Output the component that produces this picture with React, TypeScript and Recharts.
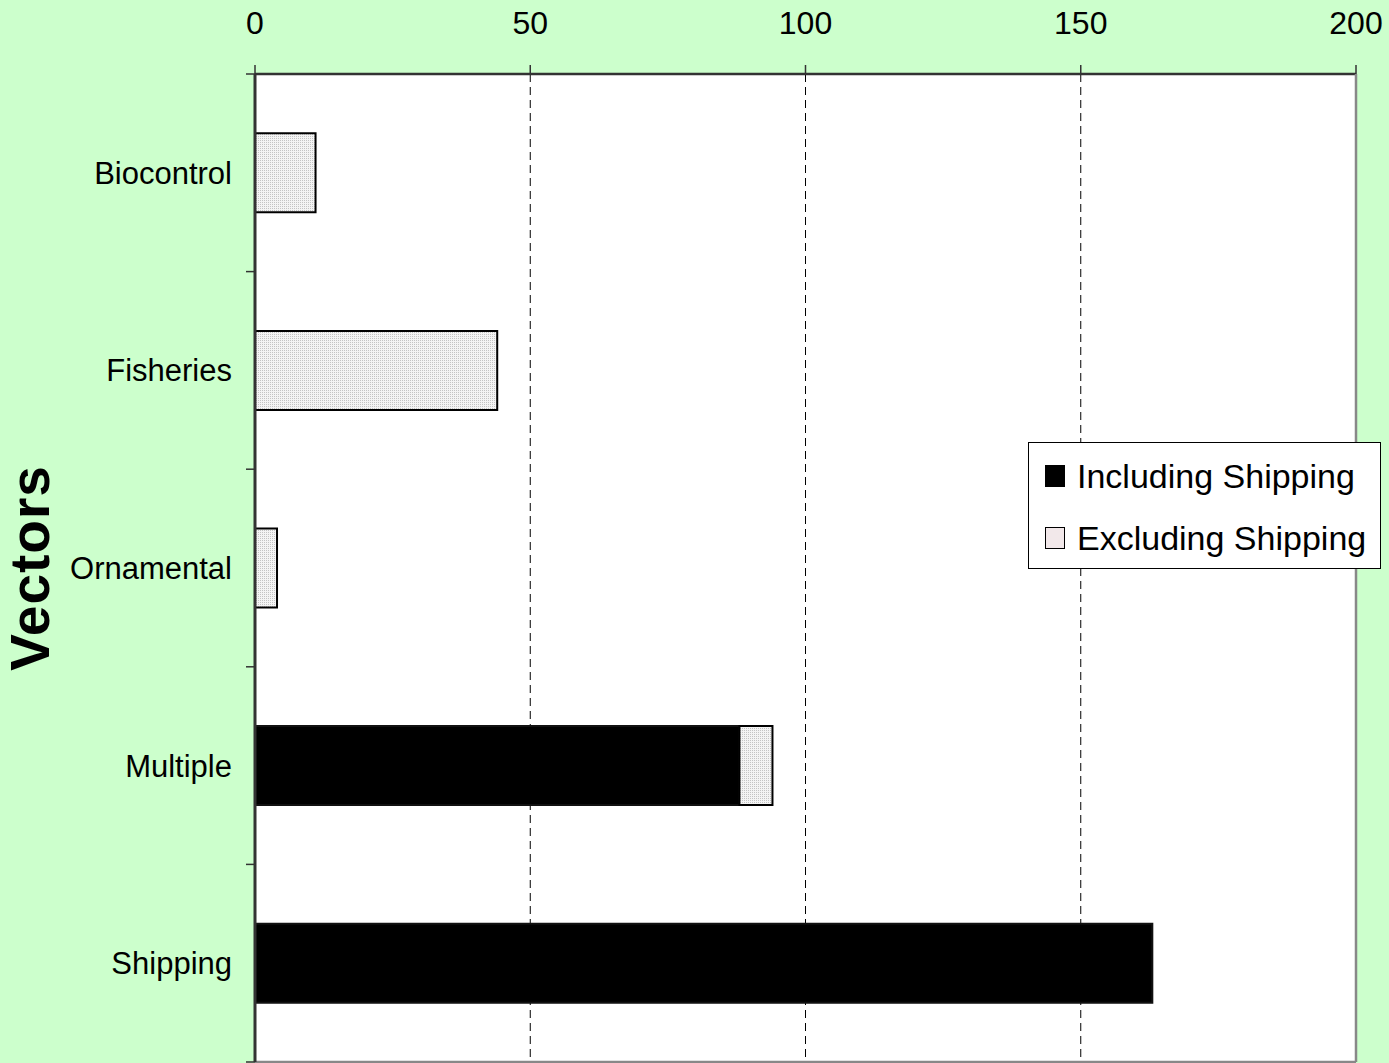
import { BarChart, Bar, XAxis, YAxis, CartesianGrid } from "recharts";

const categories = ["Biocontrol", "Fisheries", "Ornamental", "Multiple", "Shipping"];
const includingShipping = [0, 0, 0, 88, 163];
const excludingShipping = [11, 44, 4, 6, 0];
const xTicks = [0, 50, 100, 150, 200];
const seriesNames = ["Including Shipping", "Excluding Shipping"];

const data = categories.map((name, i) => ({
  name,
  including: includingShipping[i],
  excluding: excludingShipping[i],
}));

const BG = "#ccffcc";
const FONT = "'Liberation Sans', Arial, sans-serif";
const LEFT_W = 255;

function CategoryTick(props: any) {
  const { y, payload, index } = props;
  const half = payload.offset || 0;
  return (
    <g>
      <text
        x={LEFT_W - 23}
        y={y}
        dy={11}
        textAnchor="end"
        fontSize={31}
        fontFamily={FONT}
        fill="#000"
      >
        {payload.value}
      </text>
      {index === 0 && (
        <line x1={LEFT_W - 9} x2={LEFT_W} y1={y - half} y2={y - half} stroke="#333" strokeWidth={1.5} />
      )}
      <line x1={LEFT_W - 9} x2={LEFT_W} y1={y + half} y2={y + half} stroke="#333" strokeWidth={1.5} />
    </g>
  );
}

export default function App() {
  return (
    <div style={{ position: "relative", width: 1389, height: 1063, background: BG }}>
      <style>{"body{margin:0}"}</style>
      <svg width={0} height={0} style={{ position: "absolute" }}>
        <defs>
          <pattern id="dots" width={2} height={2} patternUnits="userSpaceOnUse">
            <rect width={2} height={2} fill="#f4f4f4" />
            <rect width={1} height={1} fill="#c4c4c4" />
          </pattern>
        </defs>
      </svg>
      <BarChart
        width={1389}
        height={1063}
        data={data}
        layout="vertical"
        margin={{ top: 0, right: 32, bottom: 0, left: 0 }}
        barCategoryGap="30%"
      >
        <CartesianGrid
          horizontal={false}
          stroke="#000"
          strokeDasharray="8 5"
          fill="#ffffff"
          fillOpacity={1}
        />
        <XAxis
          type="number"
          orientation="top"
          domain={[0, 200]}
          ticks={xTicks}
          height={74}
          tickSize={9}
          tickMargin={31}
          tick={{ fontSize: 32, fill: "#000", fontFamily: FONT }}
          axisLine={{ stroke: "#333", strokeWidth: 2.5 }}
          tickLine={{ stroke: "#333", strokeWidth: 1.5 }}
        />
        <XAxis
          xAxisId="bottom"
          type="number"
          orientation="bottom"
          domain={[0, 200]}
          height={1}
          tick={false}
          tickLine={false}
          axisLine={{ stroke: "#888", strokeWidth: 2.5 }}
        />
        <YAxis
          type="category"
          dataKey="name"
          width={LEFT_W}
          tickLine={false}
          tick={<CategoryTick />}
          axisLine={{ stroke: "#333", strokeWidth: 3 }}
          label={{
            value: "Vectors",
            angle: -90,
            position: "insideLeft",
            offset: 0,
            dx: 29,
            style: { fontSize: 55, fontWeight: "bold", fill: "#000", fontFamily: FONT, textAnchor: "middle", letterSpacing: 1 },
          }}
        />
        <YAxis
          yAxisId="right"
          type="category"
          dataKey="name"
          orientation="right"
          width={1}
          tick={false}
          tickLine={false}
          axisLine={{ stroke: "#888", strokeWidth: 2.5 }}
        />
        <Bar
          dataKey="including"
          name={seriesNames[0]}
          stackId="a"
          fill="#000"
          stroke="#111"
          strokeWidth={2}
          isAnimationActive={false}
        />
        <Bar
          dataKey="excluding"
          name={seriesNames[1]}
          stackId="a"
          fill="url(#dots)"
          stroke="#000"
          strokeWidth={2}
          isAnimationActive={false}
        />
      </BarChart>
      <div
        style={{
          position: "absolute",
          left: 1028,
          top: 442,
          width: 351,
          height: 125,
          background: "#fff",
          border: "1px solid #000",
          fontFamily: FONT,
          fontSize: 34,
          color: "#000",
        }}
      >
        {seriesNames.map((s, i) => (
          <div
            key={s}
            style={{
              position: "absolute",
              left: 16,
              top: 12 + i * 62,
              display: "flex",
              alignItems: "center",
              height: 42,
              whiteSpace: "nowrap",
            }}
          >
            <span
              style={{
                display: "inline-block",
                width: 18,
                height: 20,
                marginRight: 12,
                border: "1.5px solid #000",
                backgroundColor: i === 0 ? "#000" : "#f2e8ea",
              }}
            />
            {s}
          </div>
        ))}
      </div>
    </div>
  );
}
